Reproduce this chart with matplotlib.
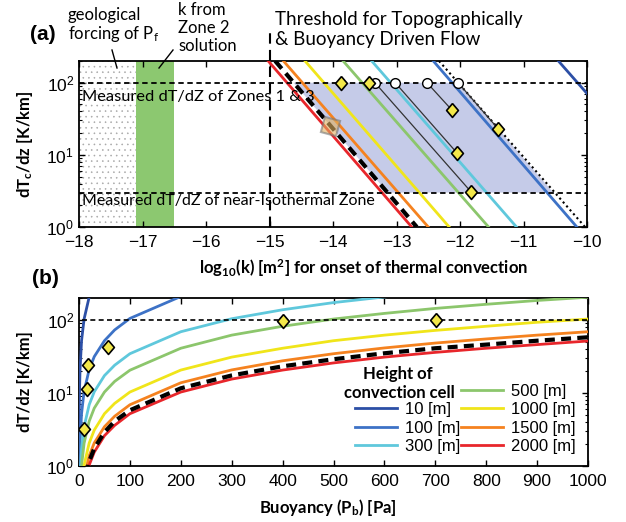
import matplotlib
matplotlib.use("Agg")
import matplotlib.pyplot as plt
from matplotlib.lines import Line2D
from matplotlib.patches import Rectangle, Polygon
from matplotlib.ticker import NullLocator

plt.rcParams['font.family'] = ['Liberation Sans', 'DejaVu Sans']
plt.rcParams['mathtext.fontset'] = 'custom'
plt.rcParams['mathtext.rm'] = 'Lato'
plt.rcParams['mathtext.bf'] = 'Lato:bold'
plt.rcParams['mathtext.it'] = 'Lato:italic'
plt.rcParams['hatch.linewidth'] = 0.4

# convection cell heights and colours
heights = ["10 [m]", "100 [m]", "300 [m]", "500 [m]", "1000 [m]", "1500 [m]", "2000 [m]"]
colors = ["#2c4fa6", "#3d72c6", "#5fc8dc", "#8cc66c", "#f0e51a", "#f5821f", "#e8262b"]

# (a) onset lines: log10(k) where each line meets dT/dz = 200 (top) and dT/dz = 1 (bottom)
logk_top = [-10.45, -12.42, -13.39, -13.84, -14.44, -14.78, -15.02]
logk_bot = [-8.15, -10.16, -11.11, -11.55, -12.17, -12.50, -12.76]
dash_top, dash_bot = -14.91, -12.68      # thick black dashed line
dot_top, dot_bot = -12.33, -10.03        # dotted black line

zone13_dtdz = 100
iso_dtdz = 3
shade_x = [-14.62, -12.03, -10.53, -13.14]
shade_y = [100, 100, 3, 3]

circ_x = [-13.34, -13.02, -12.52, -12.03]
diam_a_x = [-13.87, -13.44, -11.83, -12.05, -12.13, -11.40]
diam_a_y = [100, 100, 3.1, 10.7, 42, 23]
# circle i is linked to diamond i+2
sq_x, sq_y = -14.05, 25

# (b) dT/dz against buoyancy for each height
pb = [0.1, 0.2, 0.5, 1, 2, 5, 10, 20, 30, 50, 70, 100, 200, 300, 400, 500, 600, 700, 800, 900, 1000]
dtdz_b = [
    [1.03, 2.06, 5.2, 10.3, 20.6, 52, 103, 206, 309, 515, 721, 1030, 2060, 3090, 4120, 5150, 6180, 7210, 8240, 9270, 10300],
    [0.105, 0.21, 0.52, 1.05, 2.1, 5.2, 10.5, 21, 31.5, 52, 73, 105, 210, 315, 420, 525, 630, 735, 840, 945, 1050],
    [0.035, 0.069, 0.17, 0.345, 0.69, 1.7, 3.45, 6.9, 10.4, 17.3, 24, 34.5, 69, 104, 138, 173, 207, 242, 276, 311, 345],
    [0.02, 0.041, 0.1, 0.205, 0.41, 1.0, 2.05, 4.1, 6.2, 10.3, 14.4, 20.5, 41, 62, 82, 103, 123, 144, 164, 185, 205],
    [0.01, 0.021, 0.05, 0.103, 0.21, 0.52, 1.03, 2.06, 3.1, 5.2, 7.2, 10.3, 20.6, 31, 41, 52, 62, 72, 82, 93, 103],
    [0.007, 0.014, 0.035, 0.069, 0.14, 0.35, 0.69, 1.38, 2.07, 3.45, 4.8, 6.9, 13.8, 20.7, 27.6, 34.5, 41.4, 48.3, 55, 62, 69],
    [0.005, 0.01, 0.026, 0.052, 0.103, 0.26, 0.52, 1.03, 1.55, 2.6, 3.6, 5.2, 10.3, 15.5, 20.6, 25.8, 31, 36, 41, 46, 51.5],
]
dtdz_dash = [0.006, 0.012, 0.029, 0.058, 0.116, 0.29, 0.58, 1.16, 1.74, 2.9, 4.1, 5.8, 11.6, 17.4, 23.2, 29, 35, 41, 46, 52, 58]
diam_b_x = [10, 16, 17.5, 57, 401, 701]
diam_b_y = [3.2, 11.2, 24, 43, 97, 100]

W, H = 626, 522
def fx(x): return x / W
def fy(y): return 1 - y / H

diamond = [(0, 1), (0.85, 0), (0, -1), (-0.85, 0), (0, 1)]
dia_kw = dict(ls="none", marker=diamond, ms=10, mfc="#f3e84a", mec="k", mew=1.2, zorder=6)
lato = ["Lato", "DejaVu Sans"]

fig = plt.figure(figsize=(W / 100, H / 100), dpi=100)
ax1 = fig.add_axes([fx(79), fy(227), fx(587) - fx(79), fy(61) - fy(227)])
ax2 = fig.add_axes([fx(79), fy(466), fx(588) - fx(79), fy(298) - fy(466)])

# ---- (a)
ax1.add_patch(Rectangle((-18, 1), 0.9, 199, facecolor="none", edgecolor="#a8a8a8",
                        hatch="...", lw=0, zorder=0))
ax1.axvspan(-17.1, -16.5, color="#8cc870", lw=0, zorder=1)
ax1.add_patch(Polygon(list(zip(shade_x, shade_y)), closed=True, facecolor="#c5cbe8",
                      edgecolor="none", zorder=1))
for c, xt, xb in zip(colors, logk_top, logk_bot):
    ax1.plot([xt, xb], [200, 1], color=c, lw=2, zorder=3)
ax1.plot([dash_top, dash_bot], [200, 1], color="k", lw=3, dashes=(2.4, 1.5), zorder=4)
ax1.plot([dot_top, dot_bot], [200, 1], color="k", lw=1.5, ls=(0, (1, 1.5)), zorder=4)
for i, cx in enumerate(circ_x):
    ax1.plot([cx, diam_a_x[i + 2]], [zone13_dtdz, diam_a_y[i + 2]], color="#333333", lw=0.9, zorder=4)
ax1.axhline(zone13_dtdz, color="k", lw=1.3, dashes=(3, 2), zorder=4)
ax1.axhline(iso_dtdz, color="k", lw=1.3, dashes=(3, 2), zorder=4)
ax1.plot([-15, -15], [1, 560], color="k", lw=1.5, dashes=(5, 3), clip_on=False, zorder=4)
ax1.plot(circ_x, [zone13_dtdz] * len(circ_x), ls="none", marker="o", ms=7,
         mfc="white", mec="k", mew=1, zorder=5)
ax1.plot(diam_a_x, diam_a_y, **dia_kw)
ax1.plot([sq_x], [sq_y], ls="none", marker=(4, 0, 30), ms=16, mfc="#e0b060",
         alpha=0.6, mec="#777777", mew=1.5, zorder=6)
ax1.text(-17.95, 64, "Measured dT/dZ of Zones 1 & 3", family=lato, fontsize=11.8,
         va="center", ha="left", zorder=7)
ax1.text(-17.95, 2.27, "Measured dT/dZ of near-Isothermal Zone", family=lato, fontsize=11.5,
         va="center", ha="left", zorder=7)
ax1.set_yscale("log")
ax1.set_xlim(-18, -10)
ax1.set_ylim(1, 200)
ax1.set_xticks(range(-18, -9))

# ---- (b)
for c, lab, ys in zip(colors, heights, dtdz_b):
    ax2.plot(pb, ys, color=c, lw=2, label=lab, zorder=3)
ax2.plot(pb, dtdz_dash, color="k", lw=3, dashes=(2.4, 1.5), zorder=4)
ax2.plot([5, 1000], [100, 100], color="k", lw=1.2, dashes=(3, 2), zorder=4)
ax2.plot(diam_b_x, diam_b_y, **dia_kw)
ax2.set_yscale("log")
ax2.set_xlim(0, 1000)
ax2.set_ylim(1, 200)
ax2.set_xticks(range(0, 1001, 100))

for ax in (ax1, ax2):
    ax.tick_params(which="both", direction="in", top=True, right=True, labelsize=12.5)
    ax.tick_params(which="major", length=4, width=1)
    ax.tick_params(which="minor", length=2.5, width=0.8)
    ax.tick_params(axis="x", pad=6)
    ax.xaxis.set_minor_locator(NullLocator())
    for s in ax.spines.values():
        s.set_linewidth(1.3)

# legend: 2 columns, blank first slot for the title
handles = [Line2D([], [], color="none")] + [Line2D([], [], color=c, lw=2) for c in colors]
labels = [" "] + heights
ax2.legend(handles, labels, ncol=2, loc="lower right", bbox_to_anchor=(0.975, 0.072),
           frameon=False, fontsize=12, handlelength=2.5, handletextpad=0.45,
           columnspacing=0.1, labelspacing=0.2, borderpad=0, borderaxespad=0)
fig.text(fx(398), fy(374), "Height of", family=lato, weight="bold", fontsize=12,
         ha="center", va="center")
fig.text(fx(399), fy(393), "convection cell", family=lato, weight="bold", fontsize=12,
         ha="center", va="center")

# labels and annotations
fig.text(fx(43), fy(35), "(a)", weight="bold", fontsize=15, ha="center", va="center")
fig.text(fx(45), fy(278), "(b)", weight="bold", fontsize=15, ha="center", va="center")
fig.text(fx(25), fy(144), r"dT$_\mathbf{c}$/dz [K/km]", family=lato, weight="bold",
         fontsize=12, rotation=90, ha="center", va="center")
fig.text(fx(25), fy(382), "dT/dz [K/km]", family=lato, weight="bold",
         fontsize=12, rotation=90, ha="center", va="center")
fig.text(fx(364), fy(268), r"log$_\mathbf{10}$(k) [m$^\mathbf{2}$] for onset of thermal convection",
         family=lato, weight="bold", fontsize=12, ha="center", va="center")
fig.text(fx(328), fy(507), r"Buoyancy (P$_\mathbf{b}$) [Pa]", family=lato, weight="bold",
         fontsize=12, ha="center", va="center")
fig.text(fx(68), fy(7), "geological\n" + r"forcing of P$_\mathrm{f}$", family=lato,
         fontsize=12, ha="left", va="top", linespacing=1.1)
fig.text(fx(178), fy(2), "k from\nZone 2\nsolution", family=lato, fontsize=12,
         ha="left", va="top", linespacing=1.15)
fig.text(fx(275), fy(11), "Threshold for Topographically\n& Buoyancy Driven Flow", family=lato,
         fontsize=13.5, ha="left", va="top", linespacing=1.25)
fig.add_artist(Line2D([fx(112), fx(117)], [fy(50), fy(68)], transform=fig.transFigure, color="k", lw=1))
fig.add_artist(Line2D([fx(173), fx(159)], [fy(50), fy(68)], transform=fig.transFigure, color="k", lw=1))

fig.savefig("out.png", dpi=100)
